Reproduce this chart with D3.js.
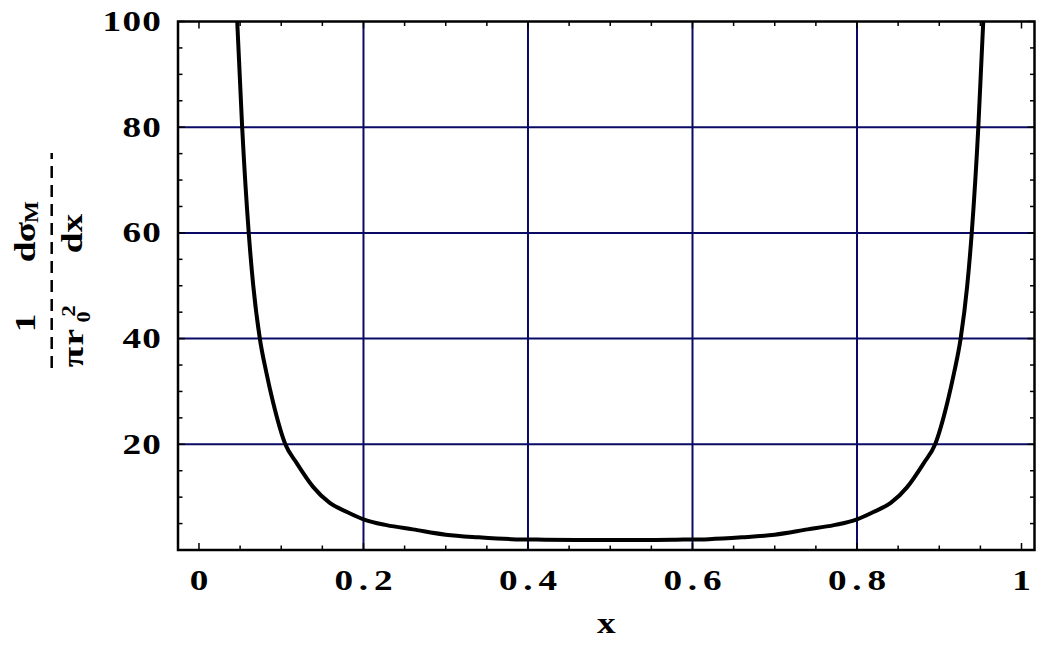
<!DOCTYPE html>
<html>
<head>
<meta charset="utf-8">
<script src="https://cdn.jsdelivr.net/npm/d3@7"></script>
<style>
  html, body { margin: 0; padding: 0; background: #ffffff; }
  svg { display: block; }
  text { font-family: "Liberation Serif", "DejaVu Serif", serif; font-weight: bold; fill: #000; }
</style>
</head>
<body>
<svg id="chart" width="1050" height="650"></svg>
<script>
// ---- data ----
const xValues = [0.0465, 0.0525, 0.0605, 0.066, 0.074, 0.082, 0.090, 0.105, 0.119, 0.139, 0.159, 0.180,
                 0.200, 0.228, 0.260, 0.300, 0.340, 0.380, 0.420, 0.460, 0.500, 0.540, 0.580, 0.620,
                 0.660, 0.700, 0.740, 0.772, 0.800, 0.820, 0.841, 0.861, 0.881, 0.895, 0.910, 0.918,
                 0.926, 0.934, 0.9395, 0.9475, 0.9535];
const yValues = [100, 80, 60, 50, 40, 33.5, 28, 20, 16.4, 11.9, 8.9, 7.2,
                 5.8, 4.7, 3.9, 2.9, 2.4, 2.05, 1.95, 1.9, 1.9, 1.9, 1.95, 2.05,
                 2.4, 2.9, 3.9, 4.7, 5.8, 7.2, 8.9, 11.9, 16.4, 20, 28, 33.5,
                 40, 50, 60, 80, 100];
const xTickLabels = ["0", "0.2", "0.4", "0.6", "0.8", "1"];
const xTickValues = [0, 0.2, 0.4, 0.6, 0.8, 1];
const yTickLabels = ["20", "40", "60", "80", "100"];
const yTickValues = [20, 40, 60, 80, 100];
const xGridValues = [0.2, 0.4, 0.6, 0.8];
const yGridValues = [20, 40, 60, 80];
const xMinorStep = 0.05;
const yMinorStep = 5;
const xAxisTitle = "x";

// ---- layout ----
const frame = { left: 178, right: 1034.5, top: 21.5, bottom: 550 };
const cell = 19.8;      // monospaced character cell used by the original typesetting
const fs = 30.5;
const stretch = 1.22;   // glyphs in the original are horizontally widened
const svg = d3.select("#chart");
svg.append("rect").attr("width", 1050).attr("height", 650).attr("fill", "#fff");

const x = d3.scaleLinear().domain([-0.0255, 1.0158]).range([frame.left, frame.right]);
const y = d3.scaleLinear().domain([0, 100]).range([frame.bottom, frame.top]);

const gridColor = "#0a0a66";

// place each character centred in its own cell (monospaced layout)
function cellText(parent, str, firstCenter, yPos, size) {
  const g = parent.append("g");
  Array.from(str).forEach((c, i) => {
    g.append("text")
      .attr("transform", `translate(${firstCenter + i * cell},${yPos}) scale(${stretch},1)`)
      .attr("text-anchor", "middle").attr("font-size", size).text(c);
  });
  return g;
}

// grid lines
svg.append("g").selectAll("line").data(xGridValues).join("line")
  .attr("x1", d => x(d)).attr("x2", d => x(d))
  .attr("y1", frame.top).attr("y2", frame.bottom)
  .attr("stroke", gridColor).attr("stroke-width", 2);
svg.append("g").selectAll("line").data(yGridValues).join("line")
  .attr("x1", frame.left).attr("x2", frame.right)
  .attr("y1", d => y(d)).attr("y2", d => y(d))
  .attr("stroke", gridColor).attr("stroke-width", 2);

// curve
svg.append("clipPath").attr("id", "clip").append("rect")
  .attr("x", frame.left).attr("y", frame.top)
  .attr("width", frame.right - frame.left).attr("height", frame.bottom - frame.top);
const pts = xValues.map((v, i) => [v, yValues[i]]);
svg.append("path")
  .attr("clip-path", "url(#clip)")
  .attr("d", d3.line().x(d => x(d[0])).y(d => y(d[1])).curve(d3.curveMonotoneX)(pts))
  .attr("fill", "none").attr("stroke", "#000").attr("stroke-width", 4)
  .attr("stroke-linejoin", "round");

// ticks (all four sides, pointing inward)
const xMinor = d3.range(0, 1 + 1e-9, xMinorStep);
const yMinor = d3.range(yMinorStep, 100 + 1e-9, yMinorStep);
const isMajorX = d => xTickValues.some(t => Math.abs(t - d) < 1e-6);
const isMajorY = d => yTickValues.some(t => Math.abs(t - d) < 1e-6);
const tk = svg.append("g").attr("stroke", "#000").attr("stroke-width", 1.5);
tk.selectAll(".xb").data(xMinor).join("line")
  .attr("x1", d => x(d)).attr("x2", d => x(d))
  .attr("y1", frame.bottom).attr("y2", d => frame.bottom - (isMajorX(d) ? 7 : 4.5));
tk.selectAll(".xt").data(xMinor).join("line")
  .attr("x1", d => x(d)).attr("x2", d => x(d))
  .attr("y1", frame.top).attr("y2", d => frame.top + (isMajorX(d) ? 7 : 4.5));
tk.selectAll(".yl").data(yMinor).join("line")
  .attr("y1", d => y(d)).attr("y2", d => y(d))
  .attr("x1", frame.left).attr("x2", d => frame.left + (isMajorY(d) ? 7 : 4.5));
tk.selectAll(".yr").data(yMinor).join("line")
  .attr("y1", d => y(d)).attr("y2", d => y(d))
  .attr("x1", frame.right).attr("x2", d => frame.right - (isMajorY(d) ? 7 : 4.5));

// frame
svg.append("rect")
  .attr("x", frame.left).attr("y", frame.top)
  .attr("width", frame.right - frame.left).attr("height", frame.bottom - frame.top)
  .attr("fill", "none").attr("stroke", "#000").attr("stroke-width", 2.5);

// tick labels
const xl = svg.append("g");
xTickValues.forEach((v, i) => {
  const s = xTickLabels[i];
  cellText(xl, s, x(v) - (s.length - 1) / 2 * cell, 589.5, fs);
});
const ylab = svg.append("g");
yTickValues.forEach((v, i) => {
  const s = yTickLabels[i];
  cellText(ylab, s, 151.5 - (s.length - 1) * cell, y(v) + 9.5, fs);
});

// x axis title
cellText(svg, xAxisTitle, (frame.left + frame.right) / 2, 633, fs);

// y axis title: 1/(π r0^2) · dσM/dx, rotated
const yl = svg.append("g").attr("transform", "rotate(-90)");
yl.append("line").attr("x1", -368).attr("x2", -153).attr("y1", 51.7).attr("y2", 51.7)
  .attr("stroke", "#000").attr("stroke-width", 2.5).attr("stroke-dasharray", "12 7");
cellText(yl, "1", -323, 35, fs);
cellText(yl, "dσ", -252, 35, fs);
yl.append("text").attr("transform", `translate(-212,38) scale(${stretch},1)`)
  .attr("text-anchor", "middle").attr("font-size", 19).text("M");
cellText(yl, "πr", -357, 83, fs);
yl.append("text").attr("transform", `translate(-317,90) scale(${stretch},1)`)
  .attr("text-anchor", "middle").attr("font-size", 18).text("0");
yl.append("text").attr("transform", `translate(-311,75) scale(${stretch},1)`)
  .attr("text-anchor", "middle").attr("font-size", 19).text("2");
cellText(yl, "dx", -243, 82, fs);
</script>
</body>
</html>
